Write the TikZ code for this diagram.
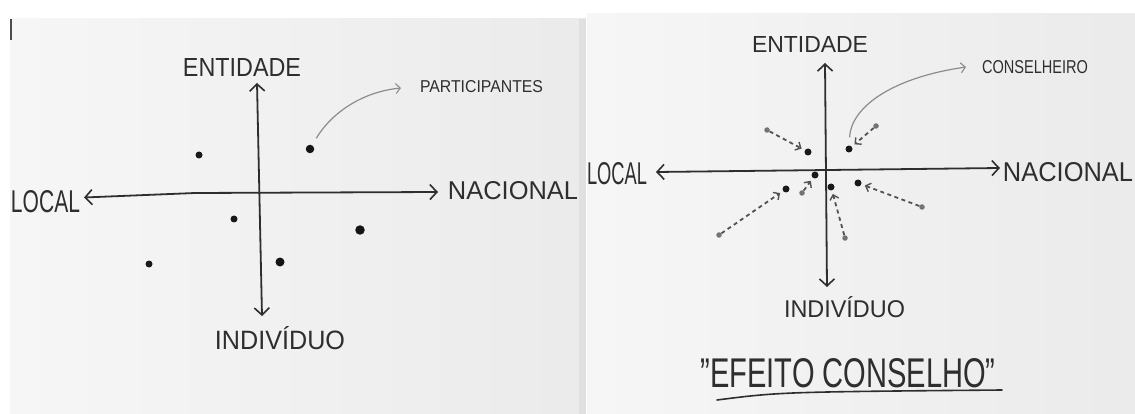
\documentclass[tikz,border=0pt]{standalone}
\usepackage{fontspec}
\setsansfont{Liberation Sans}
\usetikzlibrary{arrows.meta}

% hand-lettered caption: text stretched to a given width and height
\newcommand{\hw}[3]{\resizebox{#1pt}{#2pt}{\sffamily #3}}

\begin{document}
\begin{tikzpicture}[x=1pt,y=-1pt,
  ink/.style={black!82},
  lbl/.style={inner sep=0pt, text=black!82},
  axis/.style={ink, line width=1.8pt, line cap=round,
    {Straight Barb[length=7pt,width=15pt,line width=1.6pt]}-{Straight Barb[length=7pt,width=15pt,line width=1.6pt]}},
  dot/.style={circle, fill=black!92, inner sep=0pt, minimum size=8.5pt},
  smalldot/.style={circle, fill=black!90, inner sep=0pt, minimum size=7pt},
  startdot/.style={circle, fill=black!55, inner sep=0pt, minimum size=5.5pt},
  callout/.style={black!45, line width=1.2pt,
    -{Straight Barb[length=4.5pt,width=10pt,line width=1.1pt]}},
  pull/.style={black!68, line width=1.8pt, dash pattern=on 4pt off 3.5pt,
    shorten >=3.5pt, -{Straight Barb[length=4.5pt,width=9pt,line width=1.4pt]}},
  paper/.style={left color=gray!7, right color=gray!16}
]
\useasboundingbox (0,0) rectangle (1135,414);
\fill[white] (0,0) rectangle (1135,414);

% the two sheets of paper
\shade[paper] (10,19) rectangle (586,414);
\fill[gray!24] (579,19) rectangle (586,414);
\draw[black!70, line width=1.2pt] (11,19) -- (11,40);
\shade[paper] (587,14) rectangle (1135,414);

% ---------- first sheet: participants ----------
\node[lbl] (ent1) at (242,68)    {\hw{118}{18}{ENTIDADE}};
\node[lbl] (loc1) at (45.5,201.5) {\hw{69}{22}{LOCAL}};
\node[lbl] (nac1) at (513,191)   {\hw{130}{18}{NACIONAL}};
\node[lbl] (ind1) at (280,338.5) {\hw{130}{23}{INDIVÍDUO}};
\node[lbl] (par)  at (481.5,87)  {\hw{123}{12}{PARTICIPANTES}};

\coordinate (h1a) at (84,197.5);
\coordinate (h1m) at (195,193);
\coordinate (h1b) at (438,192);
\coordinate (v1a) at (257,83);
\coordinate (v1b) at (262,316);
\draw[axis] (h1a) -- (h1m) -- (h1b);
\draw[axis] (v1a) -- (v1b);

\node[smalldot] (d1) at (199,155) {};
\node[dot]      (d2) at (310,149) {};
\node[smalldot] (d3) at (234,219) {};
\node[dot, minimum width=7.5pt, minimum height=9.5pt] (d4) at (360,230) {};
\node[smalldot] (d5) at (149,264) {};
\node[dot, minimum width=7pt, minimum height=9pt] (d6) at (280,262) {};

\coordinate (par-tip) at (401,88);
\draw[callout, shorten <=8pt] (d2) .. controls (330,115) and (360,92) .. (par-tip);

% ---------- second sheet: council effect ----------
\node[lbl] (ent2) at (810,45)     {\hw{116}{16}{ENTIDADE}};
\node[lbl] (loc2) at (617,173.5)  {\hw{60}{22}{LOCAL}};
\node[lbl] (nac2) at (1068,172.5) {\hw{130}{19}{NACIONAL}};
\node[lbl] (con)  at (1035,67.5)  {\hw{106}{13}{CONSELHEIRO}};
\node[lbl] (ind2) at (844.5,307.5) {\hw{121}{21}{INDIVÍDUO}};
\node[lbl] (efe)  at (848,373)    {\hw{295}{29}{"EFEITO CONSELHO"}};

\coordinate (u1) at (717,400);
\coordinate (u2) at (1002,390);
\draw[ink, line width=1.6pt, line cap=round] (u1) .. controls (780,392) .. (u2);

\coordinate (h2a) at (656,172);
\coordinate (h2b) at (1000,168);
\coordinate (v2a) at (825,63);
\coordinate (v2b) at (827,287);
\draw[axis] (h2a) -- (h2b);
\draw[axis] (v2a) -- (v2b);

% members drawn towards the centre
\node[smalldot] (q1) at (808,152) {};
\node[smalldot] (q2) at (849,149) {};
\node[smalldot] (q3) at (815,175) {};
\node[smalldot] (q4) at (786,189) {};
\node[smalldot] (q5) at (831,187) {};
\node[smalldot] (q6) at (858,183) {};

\node[startdot] (s1) at (767,130) {};
\node[startdot] (s2) at (876,126) {};
\node[startdot] (s3) at (802,193) {};
\node[startdot] (s4) at (719,235) {};
\node[startdot] (s5) at (845,238) {};
\node[startdot] (s6) at (922,207) {};

\draw[pull] (s1) -- (q1);
\draw[pull] (s2) -- (q2);
\draw[pull] (s3) -- (q3);
\draw[pull] (s4) -- (q4);
\draw[pull] (s5) -- (q5);
\draw[pull] (s6) -- (q6);

\coordinate (con-tip) at (966,67);
\draw[callout, shorten <=8pt] (q2) .. controls (851,108) and (890,78) .. (con-tip);
\end{tikzpicture}
\end{document}
